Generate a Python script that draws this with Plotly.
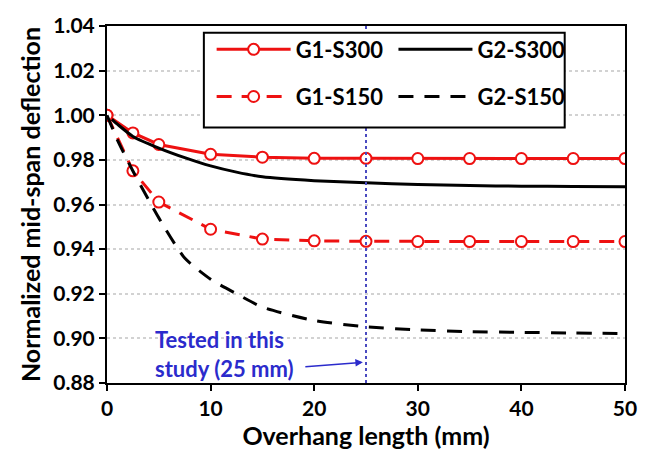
import plotly.graph_objects as go

# Overhang length (mm)
overhang_g1 = [0, 2.5, 5, 10, 15, 20, 25, 30, 35, 40, 45, 50]
overhang_g2 = [0, 1, 2.5, 5, 7.5, 10, 12.5, 15, 20, 25, 30, 35, 40, 45, 50]

# Normalized mid-span deflection
g1_s300 = [1.000, 0.9921, 0.9869, 0.9825, 0.9812, 0.9807, 0.9807, 0.9806, 0.9806, 0.9806, 0.9806, 0.9806]
g1_s150 = [1.000, 0.9751, 0.9611, 0.9489, 0.9445, 0.9437, 0.9435, 0.9434, 0.9434, 0.9434, 0.9434, 0.9434]
g2_s300 = [1.000, 0.9960, 0.9905, 0.9853, 0.9810, 0.9773, 0.9745, 0.9724, 0.9707, 0.9697, 0.9690, 0.9685, 0.9682, 0.9681, 0.9680]
g2_s150 = [1.000, 0.9890, 0.9750, 0.9540, 0.9360, 0.9265, 0.9200, 0.9140, 0.9080, 0.9052, 0.9038, 0.9030, 0.9027, 0.9024, 0.9022]

tested_overhang = 25
y_ticks = [0.88, 0.90, 0.92, 0.94, 0.96, 0.98, 1.00, 1.02, 1.04]
x_ticks = [0, 10, 20, 30, 40, 50]

FONT = "Lato"
RED = "#ee1111"
BLUE = "#2b2bcc"

fig = go.Figure()

marker_style = dict(symbol="circle", size=11, color="white", line=dict(color=RED, width=2))

fig.add_trace(go.Scatter(
    x=overhang_g1, y=g1_s300, name="G1-S300", mode="lines+markers",
    line=dict(color=RED, width=3), marker=marker_style, legend="legend2"))
fig.add_trace(go.Scatter(
    x=overhang_g2, y=g2_s300, name="G2-S300", mode="lines",
    line=dict(color="black", width=3, shape="spline", smoothing=0.6), legend="legend3"))
fig.add_trace(go.Scatter(
    x=overhang_g1, y=g1_s150, name="G1-S150", mode="lines+markers",
    line=dict(color=RED, width=3, dash="15px,10px"), marker=marker_style, legend="legend4"))
fig.add_trace(go.Scatter(
    x=overhang_g2, y=g2_s150, name="G2-S150", mode="lines",
    line=dict(color="black", width=3, dash="15px,11px", shape="spline", smoothing=0.6), legend="legend5"))

# Reference line for the tested overhang
fig.add_shape(type="line", xref="x", yref="y", x0=tested_overhang, x1=tested_overhang,
              y0=y_ticks[0], y1=y_ticks[-1], line=dict(color="#4a4ac0", width=2, dash="dot"))

fig.add_annotation(x=4.4, y=0.8931, xref="x", yref="y", xanchor="left", yanchor="middle",
                   align="left", showarrow=False,
                   text="Tested in this<br>study (25 mm)",
                   font=dict(family=FONT, size=22, color=BLUE, weight="bold"))
fig.add_annotation(x=tested_overhang - 0.3, y=0.8893, ax=19.0, ay=0.8872,
                   xref="x", yref="y", axref="x", ayref="y", text="",
                   showarrow=True, arrowhead=2, arrowsize=1, arrowwidth=1.5, arrowcolor=BLUE)

# Legend frame
fig.add_shape(type="rect", xref="paper", yref="paper", x0=0.187, x1=0.8836, y0=0.716, y1=0.981,
              fillcolor="white", line=dict(color="black", width=2), layer="above")

legend_font = dict(family=FONT, size=22, color="black", weight="bold")
legend_common = dict(xanchor="left", yanchor="middle", bgcolor="rgba(0,0,0,0)",
                     borderwidth=0, font=legend_font, itemwidth=74)

fig.update_layout(
    width=649, height=467,
    margin=dict(l=107, r=18, t=17, b=84),
    paper_bgcolor="white", plot_bgcolor="white",
    font=dict(family=FONT, color="black"),
    showlegend=True,
    legend2=dict(x=0.202, y=0.934, **legend_common),
    legend3=dict(x=0.553, y=0.934, **legend_common),
    legend4=dict(x=0.202, y=0.802, **legend_common),
    legend5=dict(x=0.553, y=0.802, **legend_common),
    xaxis=dict(range=[0, 50], tickvals=x_ticks, showgrid=False, zeroline=False,
               showline=True, linecolor="black", linewidth=2, mirror=True,
               ticks="outside", ticklen=6, tickwidth=2, tickcolor="black",
               tickfont=dict(family=FONT, size=21, color="black", weight="bold"),
               title=dict(text="Overhang length (mm)", standoff=8,
                          font=dict(family=FONT, size=25, color="black", weight="bold"))),
    yaxis=dict(range=[0.88, 1.04], tickvals=y_ticks, tickformat=".2f",
               showgrid=True, gridcolor="#d2d2d2", gridwidth=1.5, griddash="dot",
               zeroline=False, showline=True, linecolor="black", linewidth=2, mirror=True,
               ticks="outside", ticklen=6, tickwidth=2, tickcolor="black",
               tickfont=dict(family=FONT, size=21, color="black", weight="bold"),
               title=dict(text="Normalized mid-span deflection", standoff=6,
                          font=dict(family=FONT, size=25, color="black", weight="bold"))),
)

fig.write_html("out.html")
